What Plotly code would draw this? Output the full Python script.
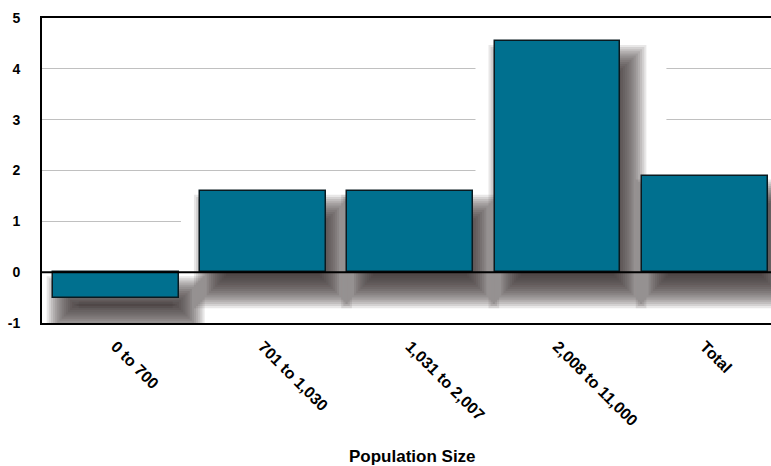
import plotly.graph_objects as go

categories = ["0 to 700", "701 to 1,030", "1,031 to 2,007", "2,008 to 11,000", "Total"]
values = [-0.5, 1.6, 1.6, 4.55, 1.9]
y_ticks = [-1, 0, 1, 2, 3, 4, 5]

W, H = 771, 466
ML, MR, MT, MB = 42, 0, 18, 143
XR = [-0.5, 4.45]
YR = [-1, 5]
BAR_W = 0.855

pw = W - ML - MR
ph = H - MT - MB
ux = (XR[1] - XR[0]) / pw   # data units per px (x)
uy = (YR[1] - YR[0]) / ph   # data units per px (y)

shapes = []
# white halo (covers gridlines around the bars)
for i, v in enumerate(values):
    lo, hi = min(0, v), max(0, v)
    shapes.append(dict(type="rect", xref="x", yref="y", layer="between",
                       x0=i - BAR_W / 2 - 19 * ux, x1=i + BAR_W / 2 + 46 * ux,
                       y0=lo - 48 * uy, y1=hi + 8 * uy,
                       fillcolor="white", line=dict(width=0)))
# blurred drop shadows
n, blur, dx, dy = 16, 16, 10, 20
for i, v in enumerate(values):
    lo, hi = min(0, v), max(0, v)
    for k in range(n):
        e = blur * (2 * k / (n - 1) - 1)
        shapes.append(dict(type="rect", xref="x", yref="y", layer="between",
                           x0=i - BAR_W / 2 + (dx - e) * ux, x1=i + BAR_W / 2 + (dx + e) * ux,
                           y0=lo - (dy + e) * uy, y1=hi - (dy - e) * uy,
                           fillcolor="rgba(50,40,40,0.115)", line=dict(width=0)))
# zero line on top
shapes.append(dict(type="line", xref="paper", yref="y", layer="above",
                   x0=0, x1=1, y0=0, y1=0, line=dict(color="black", width=2)))

fig = go.Figure(go.Bar(
    x=list(range(len(categories))), y=values, width=BAR_W,
    marker=dict(color="rgb(0,112,143)", line=dict(color="#0a1a20", width=1.5)),
))

font = dict(family="Liberation Sans, Arial, sans-serif", size=14, color="black")
fig.update_layout(
    width=W, height=H, margin=dict(l=ML, r=MR, t=MT, b=MB),
    paper_bgcolor="white", plot_bgcolor="white",
    showlegend=False, shapes=shapes, bargap=0,
    font=font,
    xaxis=dict(range=XR, tickmode="array", tickvals=list(range(len(categories))),
               ticktext=["<b>%s</b>" % c for c in categories], tickangle=45,
               showgrid=False, zeroline=False, showline=True, mirror=True,
               linecolor="black", linewidth=2, ticks="", ticklabelstandoff=6,
               tickfont=dict(size=16)),
    yaxis=dict(range=YR, tickmode="array", tickvals=y_ticks,
               ticktext=["<b>%d</b>" % t for t in y_ticks],
               showgrid=True, gridcolor="#c0c0c0", gridwidth=1,
               zeroline=False, showline=True, linecolor="black", linewidth=2,
               ticks="", ticklabelstandoff=17, tickfont=dict(size=14)),
    annotations=[dict(text="<b>Population Size</b>", xref="paper", yref="paper",
                      x=(412 - ML) / pw, y=-(457 - (MT + ph)) / ph,
                      xanchor="center", yanchor="middle", showarrow=False,
                      font=dict(size=17))],
)

fig.write_html("out.html")
